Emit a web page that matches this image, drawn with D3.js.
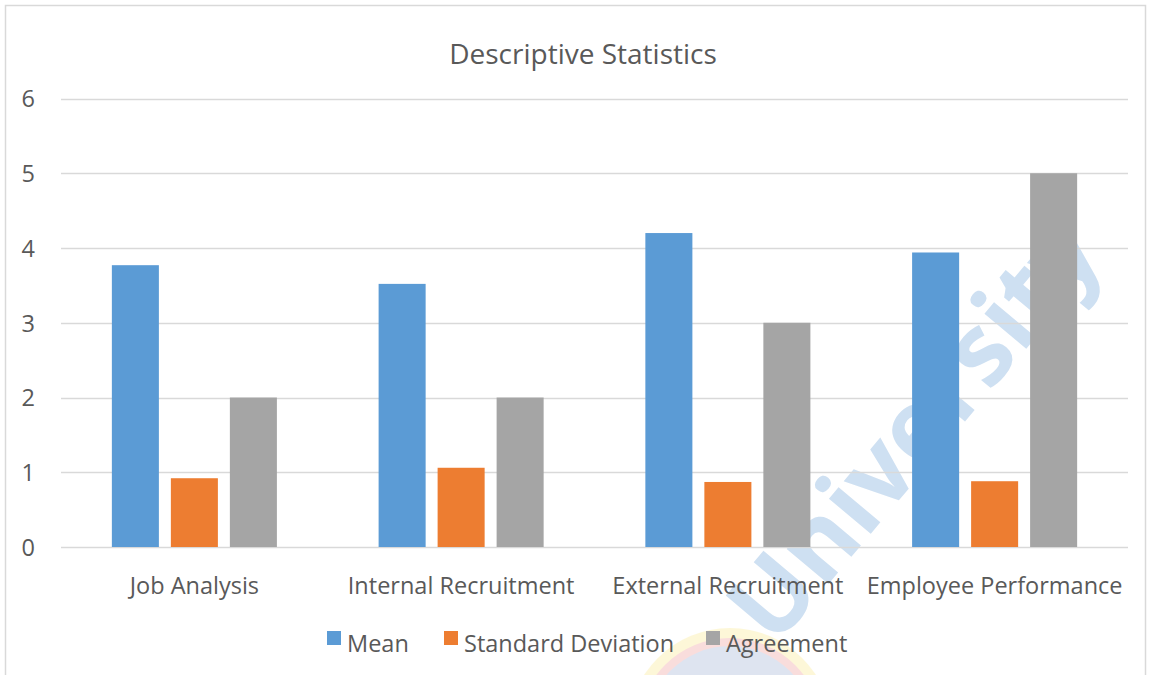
<!DOCTYPE html>
<html>
<head>
<meta charset="utf-8">
<script src="https://cdn.jsdelivr.net/npm/d3@7"></script>
<style>
  html, body { margin: 0; padding: 0; background: #ffffff; }
  svg { display: block; }
  text { font-family: "Open Sans", "Noto Sans", sans-serif; fill: #595959; }
</style>
</head>
<body>
<svg id="chart" width="1149" height="675"></svg>
<script>
// Chart data
const categories = ["Job Analysis", "Internal Recruitment", "External Recruitment", "Employee Performance"];
const seriesNames = ["Mean", "Standard Deviation", "Agreement"];
const meanValues = [3.77, 3.52, 4.20, 3.94];
const sdValues = [0.92, 1.06, 0.87, 0.88];
const agreementValues = [2, 2, 3, 5];
const yTicks = [0, 1, 2, 3, 4, 5, 6];
const seriesColors = ["#5B9BD5", "#ED7D31", "#A5A5A5"];

const seriesValues = [meanValues, sdValues, agreementValues];
const rows = categories.map((c, i) => ({
  category: c,
  values: seriesNames.map((s, j) => ({ series: s, value: seriesValues[j][i] }))
}));

const svg = d3.select("#chart");
const plot = { left: 61, right: 1128, top: 98.5, bottom: 547 };
const labelFont = 23.5;

// Outer chart frame
svg.append("rect")
  .attr("x", 5.5).attr("y", 5.5)
  .attr("width", 1140).attr("height", 720)
  .attr("fill", "#ffffff")
  .attr("stroke", "#D9D9D9").attr("stroke-width", 1.5);

// Faint badge and lettering printed behind the chart
const badge = svg.append("g").style("opacity", 0.16);
badge.append("circle").attr("cx", 730).attr("cy", 730).attr("r", 102).attr("fill", "#F7D417");
badge.append("circle").attr("cx", 730).attr("cy", 730).attr("r", 92).attr("fill", "#E0352B");
badge.append("circle").attr("cx", 730).attr("cy", 730).attr("r", 84).attr("fill", "#3B5BA8");

svg.append("text")
  .attr("transform", "translate(775,648) rotate(-50)")
  .attr("font-size", 100)
  .attr("font-weight", 700)
  .style("fill", "#C6DBF0")
  .style("opacity", 0.85)
  .text("University");

const x0 = d3.scaleBand()
  .domain(categories)
  .range([plot.left, plot.right])
  .padding(0);

const x1 = d3.scaleBand()
  .domain(seriesNames)
  .range([0, x0.bandwidth()])
  .paddingInner(0.203)
  .paddingOuter(0.862);

const y = d3.scaleLinear()
  .domain([0, 6])
  .range([plot.bottom, plot.top]);

// Gridlines
svg.append("g")
  .selectAll("line")
  .data(yTicks)
  .join("line")
  .attr("x1", plot.left).attr("x2", plot.right)
  .attr("y1", d => Math.round(y(d)) + 0.5)
  .attr("y2", d => Math.round(y(d)) + 0.5)
  .attr("stroke", "#D9D9D9")
  .attr("stroke-width", 1.5);

// Y axis labels
const yAxis = d3.axisLeft(y).tickValues(yTicks).tickSize(0).tickPadding(0).tickFormat(d3.format("d"));
const yg = svg.append("g")
  .attr("transform", "translate(35,0)")
  .call(yAxis);
yg.select(".domain").remove();
yg.selectAll("text")
  .attr("font-size", labelFont)
  .attr("dy", "0.36em")
  .style("font-family", "\"Open Sans\", sans-serif")
  .attr("fill", "#595959");

// Bars
const groups = svg.append("g")
  .selectAll("g")
  .data(rows)
  .join("g")
  .attr("transform", d => `translate(${x0(d.category)},0)`);

groups.selectAll("rect")
  .data(d => d.values)
  .join("rect")
  .attr("x", d => x1(d.series))
  .attr("width", x1.bandwidth())
  .attr("y", d => y(d.value))
  .attr("height", d => y(0) - y(d.value))
  .attr("fill", (d, i) => seriesColors[i]);

// Category axis labels
const xAxis = d3.axisBottom(x0).tickSize(0).tickPadding(0);
const xg = svg.append("g")
  .attr("transform", `translate(0,${plot.bottom})`)
  .call(xAxis);
xg.select(".domain").remove();
xg.selectAll("text")
  .attr("font-size", labelFont)
  .attr("y", 0)
  .attr("dy", 47)
  .style("font-family", "\"Open Sans\", sans-serif")
  .attr("fill", "#595959");

// Title
svg.append("text")
  .attr("x", 583).attr("y", 64)
  .attr("text-anchor", "middle")
  .attr("font-size", 28)
  .text("Descriptive Statistics");

// Legend
const legendX = [327, 444, 706];
const legend = svg.append("g")
  .selectAll("g")
  .data(seriesNames)
  .join("g")
  .attr("transform", (d, i) => `translate(${legendX[i]},0)`);
legend.append("rect")
  .attr("x", 0).attr("y", 631)
  .attr("width", 14).attr("height", 14)
  .attr("fill", (d, i) => seriesColors[i]);
legend.append("text")
  .attr("x", 20).attr("y", 652)
  .attr("font-size", labelFont)
  .text(d => d);
</script>
</body>
</html>
